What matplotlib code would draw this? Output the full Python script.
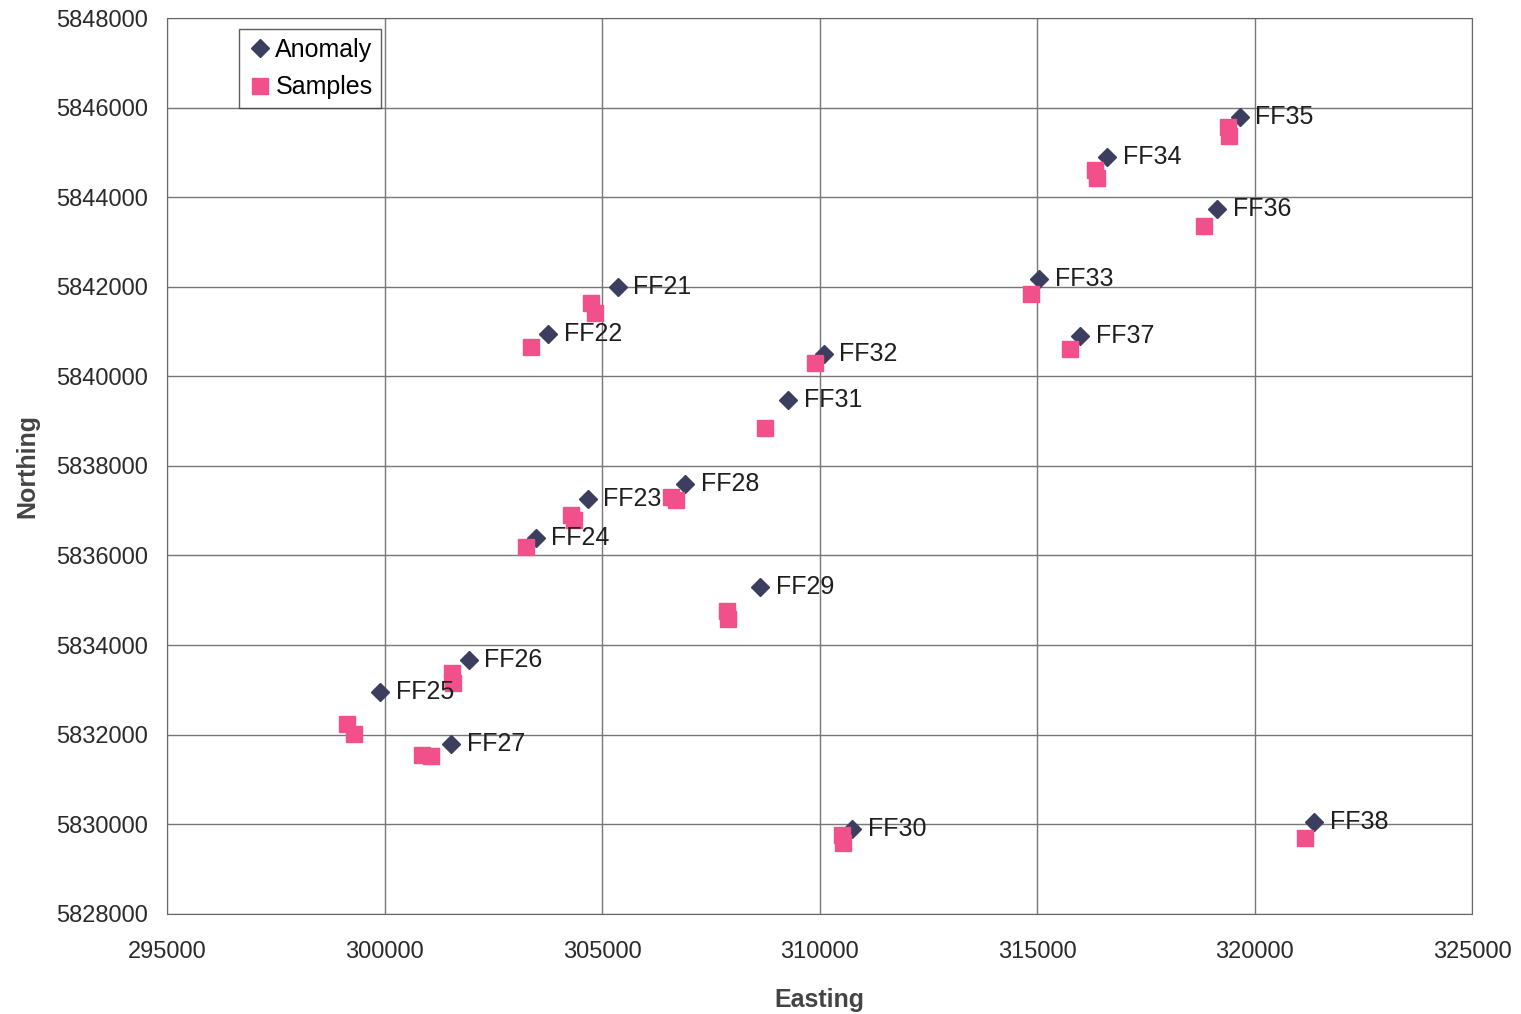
import matplotlib.pyplot as plt
from matplotlib.ticker import FuncFormatter

plt.rcParams['font.family'] = ['Liberation Sans', 'DejaVu Sans']

# anomaly locations (easting, northing)
anom_names = ['FF21', 'FF22', 'FF23', 'FF24', 'FF25', 'FF26', 'FF27', 'FF28', 'FF29',
              'FF30', 'FF31', 'FF32', 'FF33', 'FF34', 'FF35', 'FF36', 'FF37', 'FF38']
anom_e = [305350, 303760, 304660, 303480, 299900, 301940, 301530, 306910, 308630,
          310750, 309280, 310100, 315050, 316610, 319660, 319140, 315990, 321370]
anom_n = [5842000, 5840950, 5837260, 5836400, 5832950, 5833660, 5831780, 5837600, 5835300,
          5829900, 5839480, 5840510, 5842180, 5844900, 5845800, 5843730, 5840900, 5830050]

# sample locations
samp_e = [304750, 304840, 303370, 304270, 304360, 303250, 306590, 306700, 308750,
          307870, 307900, 309880, 301550, 301570, 299140, 299300, 300860, 301070,
          310520, 310540, 321160, 314860, 316330, 316380, 319380, 319400, 318840, 315740]
samp_n = [5841640, 5841420, 5840660, 5836900, 5836790, 5836180, 5837310, 5837240, 5838840,
          5834770, 5834590, 5840290, 5833370, 5833150, 5832230, 5832010, 5831550, 5831510,
          5829750, 5829580, 5829700, 5841850, 5844600, 5844430, 5845580, 5845380, 5843350, 5840620]

fig = plt.figure(figsize=(15.21, 10.14), dpi=100)
ax = fig.add_axes([0.110, 0.099, 0.858, 0.883])

ax.plot(anom_e, anom_n, 'D', color='#3b3e5e', markersize=9, label='Anomaly', zorder=3)
ax.plot(samp_e, samp_n, 's', color='#f2508a', markersize=11.5, label='Samples', zorder=4)

for name, e, n in zip(anom_names, anom_e, anom_n):
    ax.annotate(name, (e, n), xytext=(11, 0), textcoords='offset points',
                va='center', ha='left', fontsize=18, color='#1e1e1e', zorder=5)

ax.set_xlim(295000, 325000)
ax.set_ylim(5828000, 5848000)
ax.set_xticks(range(295000, 325001, 5000))
ax.set_yticks(range(5828000, 5848001, 2000))
fmt = FuncFormatter(lambda v, p: '%d' % v)
ax.xaxis.set_major_formatter(fmt)
ax.yaxis.set_major_formatter(fmt)
ax.grid(True, color='#777777', linewidth=1)
ax.set_axisbelow(True)
ax.tick_params(length=0, labelsize=17, labelcolor='#2a2a2a')
ax.tick_params(axis='x', pad=20)
ax.tick_params(axis='y', pad=14)
for s in ax.spines.values():
    s.set_color('#666666')

ax.set_xlabel('Easting', fontsize=18, fontweight='bold', color='#444444', labelpad=18)
ax.set_ylabel('Northing', fontsize=18, fontweight='bold', color='#444444', labelpad=12)

leg = ax.legend(loc='upper left', bbox_to_anchor=(0.055, 0.988), fontsize=18,
                frameon=True, fancybox=False, edgecolor='#333333', handletextpad=0.1,
                handlelength=1.0, borderpad=0.35, labelspacing=0.55, borderaxespad=0)
leg.get_frame().set_linewidth(1)

plt.savefig('out.png')
